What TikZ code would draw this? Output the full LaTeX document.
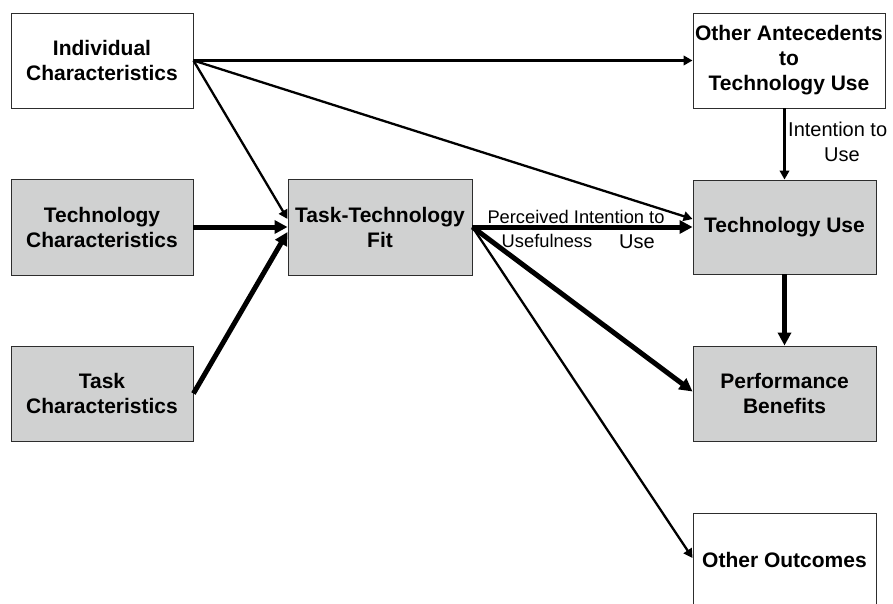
\documentclass[tikz,border=0pt]{standalone}
\usepackage{fontspec}
\setmainfont{Liberation Sans}
\usetikzlibrary{arrows.meta}
\definecolor{boxgray}{RGB}{208,209,209}
\definecolor{edgecol}{RGB}{45,45,45}
\begin{document}
\begin{tikzpicture}[x=1pt,y=-1pt,
  box/.style={draw=edgecol,line width=0.9pt,align=center,inner sep=0pt,
    font=\fontsize{21}{25}\selectfont\bfseries},
  graybox/.style={box,fill=boxgray},
  thin/.style={line width=2.3pt,-{Triangle[length=9pt,width=9.5pt]}},
  thick/.style={line width=5pt,-{Triangle[length=13pt,width=13pt]}},
  lbl/.style={inner sep=0pt,font=\fontsize{18.3}{22}\selectfont},
  lblb/.style={inner sep=0pt,font=\fontsize{20}{25}\selectfont}
]
\clip (0,0) rectangle (893,604);
\fill[white] (0,0) rectangle (893,604);

\node[box,minimum width=182pt,minimum height=95pt] (ind) at (102,60.5) {Individual\\Characteristics};
\node[graybox,minimum width=182pt,minimum height=96pt] (tc) at (102,227) {Technology\\Characteristics};
\node[graybox,minimum width=182pt,minimum height=95pt] (task) at (102,393.5) {Task\\Characteristics};
\node[graybox,minimum width=184pt,minimum height=96pt] (ttf) at (380,227) {Task-Technology\\Fit};
\node[box,minimum width=192pt,minimum height=95pt] (oa) at (789,60.5) {Other Antecedents\\to\\Technology Use};
\node[graybox,minimum width=183pt,minimum height=94pt] (tu) at (784.5,227) {Technology Use};
\node[graybox,minimum width=183pt,minimum height=95pt] (pb) at (784.5,393.5) {Performance\\Benefits};
\node[box,minimum width=183pt,minimum height=94pt] (oo) at (784.5,560) {Other Outcomes};

% connectors
\draw[thin] (ind.east) -- (oa.west);
\draw[thin] (ind.east) -- ([yshift=8pt]tu.west);
\draw[thin] (ind.east) -- ([yshift=8pt]ttf.west);
\draw[thick] (tc.east) -- (ttf.west);
\draw[thick] (task.east) -- ([yshift=-5pt]ttf.west);
\draw[thick] (ttf.east) -- (tu.west);
\draw[thick] (ttf.east) -- ([yshift=2pt]pb.west);
\draw[thin] (ttf.east) -- ([yshift=2pt]oo.west);
\draw[thin] (tu.north|-oa.south) -- (tu.north);
\draw[thick] (tu.south) -- (pb.north);

% labels
\node[lbl,anchor=base] (l1) at (576,223) {Perceived Intention to};
\node[lbl,anchor=base] (l2) at (547,247) {Usefulness};
\node[lblb,anchor=base] (l3) at (637,248) {Use};
\node[lblb,anchor=base west] (l4) at (788,137) {Intention to};
\node[lblb,anchor=base] (l5) at (842,162) {Use};
\end{tikzpicture}
\end{document}
